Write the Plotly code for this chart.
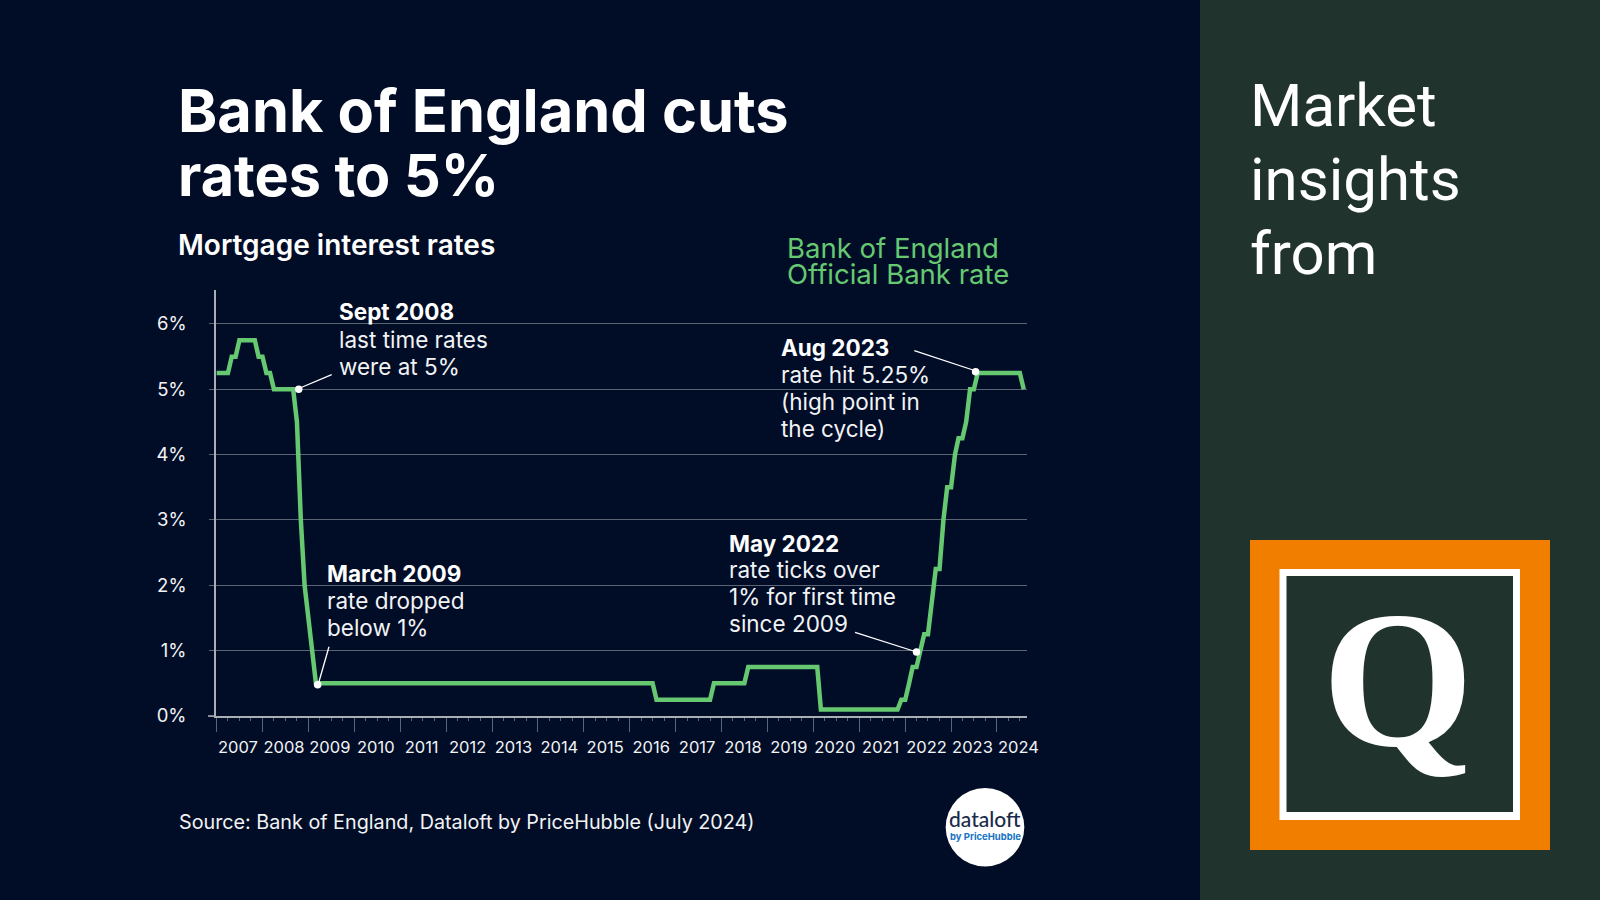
import pandas as pd
import plotly.graph_objects as go

# ---- data ----
rate_2007 = [5.25, 5.25, 5.25, 5.25, 5.5, 5.5, 5.75, 5.75, 5.75, 5.75, 5.75, 5.5]
rate_2008 = [5.5, 5.25, 5.25, 5, 5, 5, 5, 5, 5, 4.5, 3, 2]
rate_2009 = [1.5, 1, 0.5, 0.5, 0.5, 0.5, 0.5, 0.5, 0.5, 0.5, 0.5, 0.5]
rate_2010 = [0.5, 0.5, 0.5, 0.5, 0.5, 0.5, 0.5, 0.5, 0.5, 0.5, 0.5, 0.5]
rate_2011 = [0.5, 0.5, 0.5, 0.5, 0.5, 0.5, 0.5, 0.5, 0.5, 0.5, 0.5, 0.5]
rate_2012 = [0.5, 0.5, 0.5, 0.5, 0.5, 0.5, 0.5, 0.5, 0.5, 0.5, 0.5, 0.5]
rate_2013 = [0.5, 0.5, 0.5, 0.5, 0.5, 0.5, 0.5, 0.5, 0.5, 0.5, 0.5, 0.5]
rate_2014 = [0.5, 0.5, 0.5, 0.5, 0.5, 0.5, 0.5, 0.5, 0.5, 0.5, 0.5, 0.5]
rate_2015 = [0.5, 0.5, 0.5, 0.5, 0.5, 0.5, 0.5, 0.5, 0.5, 0.5, 0.5, 0.5]
rate_2016 = [0.5, 0.5, 0.5, 0.5, 0.5, 0.5, 0.5, 0.25, 0.25, 0.25, 0.25, 0.25]
rate_2017 = [0.25, 0.25, 0.25, 0.25, 0.25, 0.25, 0.25, 0.25, 0.25, 0.25, 0.5, 0.5]
rate_2018 = [0.5, 0.5, 0.5, 0.5, 0.5, 0.5, 0.5, 0.75, 0.75, 0.75, 0.75, 0.75]
rate_2019 = [0.75, 0.75, 0.75, 0.75, 0.75, 0.75, 0.75, 0.75, 0.75, 0.75, 0.75, 0.75]
rate_2020 = [0.75, 0.75, 0.1, 0.1, 0.1, 0.1, 0.1, 0.1, 0.1, 0.1, 0.1, 0.1]
rate_2021 = [0.1, 0.1, 0.1, 0.1, 0.1, 0.1, 0.1, 0.1, 0.1, 0.1, 0.1, 0.25]
rate_2022 = [0.25, 0.5, 0.75, 0.75, 1, 1.25, 1.25, 1.75, 2.25, 2.25, 3, 3.5]
rate_2023 = [3.5, 4, 4.25, 4.25, 4.5, 5, 5, 5.25, 5.25, 5.25, 5.25, 5.25]
rate_2024 = [5.25, 5.25, 5.25, 5.25, 5.25, 5.25, 5.25, 5]
years = [2007, 2008, 2009, 2010, 2011, 2012, 2013, 2014, 2015, 2016, 2017, 2018,
         2019, 2020, 2021, 2022, 2023, 2024]
y_ticks = [0, 1, 2, 3, 4, 5, 6]
y_tick_text = ["0%", "1%", "2%", "3%", "4%", "5%", "6%"]
callout_dates = ["2008-10-15", "2009-03-15", "2022-04-01", "2023-07-15"]
callout_rates = [5.0, 0.48, 0.98, 5.27]

rates = (rate_2007 + rate_2008 + rate_2009 + rate_2010 + rate_2011 + rate_2012 + rate_2013
         + rate_2014 + rate_2015 + rate_2016 + rate_2017 + rate_2018 + rate_2019 + rate_2020
         + rate_2021 + rate_2022 + rate_2023 + rate_2024)
months = pd.date_range("2007-01-01", periods=len(rates), freq="MS").strftime("%Y-%m-%d").tolist()

# ---- palette ----
NAVY = "#010D27"
PANEL = "#20332D"
ORANGE = "#F27E00"
GREEN = "#66C971"
WHITE = "#FFFFFF"
GRID = "#5C6474"
AXIS = "#A9ADB6"
SOFT = "#F2F3F5"

W, H = 1600, 900
px = lambda x: x / W
py = lambda y: 1 - y / H
X_RANGE = ["2006-12-27", "2024-08-27"]

fig = go.Figure()
fig.add_trace(go.Scatter(x=months, y=rates, mode="lines", cliponaxis=False,
                         line=dict(color=GREEN, width=4.5, shape="linear"), hoverinfo="skip",
                         showlegend=False))
fig.add_trace(go.Scatter(x=callout_dates, y=callout_rates, mode="markers", cliponaxis=False,
                         marker=dict(color=WHITE, size=7.5), hoverinfo="skip", showlegend=False))
# carrier for the overlaid axis holding the year labels
fig.add_trace(go.Scatter(x=[months[0]], y=[None], xaxis="x2", mode="lines", hoverinfo="skip",
                         showlegend=False))

shapes = []
def rect(x0, y0, x1, y1, fill, kind="rect"):
    shapes.append(dict(type=kind, xref="paper", yref="paper", x0=px(x0), x1=px(x1),
                       y0=py(y1), y1=py(y0), fillcolor=fill, line=dict(width=0), layer="below"))
def seg(x0, y0, x1, y1, color=WHITE, width=1.3):
    shapes.append(dict(type="line", xref="paper", yref="paper", x0=px(x0), x1=px(x1),
                       y0=py(y0), y1=py(y1), line=dict(color=color, width=width), layer="above"))

rect(1200, 0, 1600, 900, PANEL)
rect(1250, 540, 1550, 850, ORANGE)
rect(1279.5, 569, 1520, 820, WHITE)
rect(1286.5, 576, 1513, 812, PANEL)
rect(945.7, 788, 1024.3, 866.5, WHITE, "circle")
seg(208, 716, 216, 716, AXIS, 1.5)
seg(300, 388, 331.7, 374.7)
seg(318, 685, 329, 646.7)
seg(916.7, 652, 855, 632.3)
seg(976, 371, 914.3, 350.7)

notes = []
def label(x, y, text, size, color=WHITE, weight=400, family="Inter", anchor="left"):
    notes.append(dict(xref="paper", yref="paper", x=px(x), y=py(y), text=text, showarrow=False,
                      xanchor=anchor, yanchor="middle", align=anchor, borderpad=0,
                      font=dict(family=family, size=size, color=color, weight=weight)))

label(177, 110.5, "Bank of England cuts", 59.5, weight=700)
label(177, 175, "rates to 5%", 57.5, weight=700)
label(176.5, 245, "Mortgage interest rates", 28, weight=600)
label(786, 248, "Bank of England", 27.5, GREEN)
label(786, 274.5, "Official Bank rate", 27.5, GREEN)

label(337.7, 311.5, "Sept 2008", 22.5, weight=700)
label(337.7, 339.5, "last time rates", 22.5, SOFT)
label(337.7, 366.5, "were at 5%", 22.5, SOFT)
label(326.4, 573.5, "March 2009", 22.5, weight=700)
label(326.4, 600.5, "rate dropped", 22.5, SOFT)
label(326.4, 627.5, "below 1%", 22.5, SOFT)
label(728, 543, "May 2022", 22.5, weight=700)
label(728, 569.5, "rate ticks over", 22.5, SOFT)
label(728, 596.5, "1% for first time", 22.5, SOFT)
label(728, 623.5, "since 2009", 22.5, SOFT)
label(780.3, 347.5, "Aug 2023", 22.5, weight=700)
label(780.3, 374.5, "rate hit 5.25%", 22.5, SOFT)
label(780.3, 401.5, "(high point in", 22.5, SOFT)
label(780.3, 428.5, "the cycle)", 22.5, SOFT)

label(177.5, 822, "Source: Bank of England, Dataloft by PriceHubble (July 2024)", 19.75, SOFT)
label(1249, 105, "Market", 60, family="Roboto")
label(1249, 179.5, "insights", 60, family="Roboto")
label(1249, 254, "from", 60, family="Roboto")
label(1398, 679, "Q", 195, weight=700, family="Liberation Serif", anchor="center")
label(985, 818.5, "dataloft", 21, "#1B2B4B", family="Lato", weight=500, anchor="center")
label(985, 836.7, "by PriceHubble", 9.5, "#1473C4", weight=700, anchor="center")

fig.update_layout(
    template="none",
    width=W, height=H, margin=dict(l=0, r=0, t=0, b=0, pad=0, autoexpand=False),
    paper_bgcolor=NAVY, plot_bgcolor="rgba(0,0,0,0)", showlegend=False,
    shapes=shapes, annotations=notes,
    font=dict(family="Inter", color=SOFT),
    xaxis=dict(domain=[px(216), px(1027)], range=X_RANGE, type="date", anchor="y", automargin=False,
               showgrid=False, zeroline=False, showline=True, linecolor=AXIS, linewidth=1.5,
               tickmode="array", tickvals=[f"{v}-01-01" for v in years], ticktext=["" for v in years],
               ticks="outside", ticklen=14, tickwidth=1, tickcolor=GRID,
               minor=dict(dtick="M3", tick0="2007-01-01", ticks="outside", ticklen=3,
                          tickwidth=1, tickcolor=GRID)),
    xaxis2=dict(domain=[px(216), px(1027)], range=X_RANGE, type="date", overlaying="x", automargin=False,
                anchor="y", side="bottom", showgrid=False, zeroline=False, showline=False,
                tickmode="array", tickvals=[f"{v}-06-20" for v in years],
                ticktext=[str(v) for v in years], tickangle=0,
                ticks="outside", ticklen=16, tickwidth=0, tickcolor="rgba(0,0,0,0)",
                tickfont=dict(family="Inter", size=16.5, color=SOFT)),
    yaxis=dict(domain=[py(716), py(290)], range=[0, 6.52], anchor="x", automargin=False,
               tickmode="array", tickvals=y_ticks, ticktext=y_tick_text,
               showgrid=True, gridcolor=GRID, gridwidth=1.3, zeroline=False,
               showline=True, linecolor=AXIS, linewidth=1.5,
               ticks="outside", ticklen=5, tickwidth=1, tickcolor=GRID, ticklabelstandoff=19,
               tickfont=dict(family="Inter", size=18.5, color=SOFT)),
)

fig.write_html("out.html", config={"displayModeBar": False},
               post_script="document.body.style.margin='0';document.body.style.overflow='hidden';")
